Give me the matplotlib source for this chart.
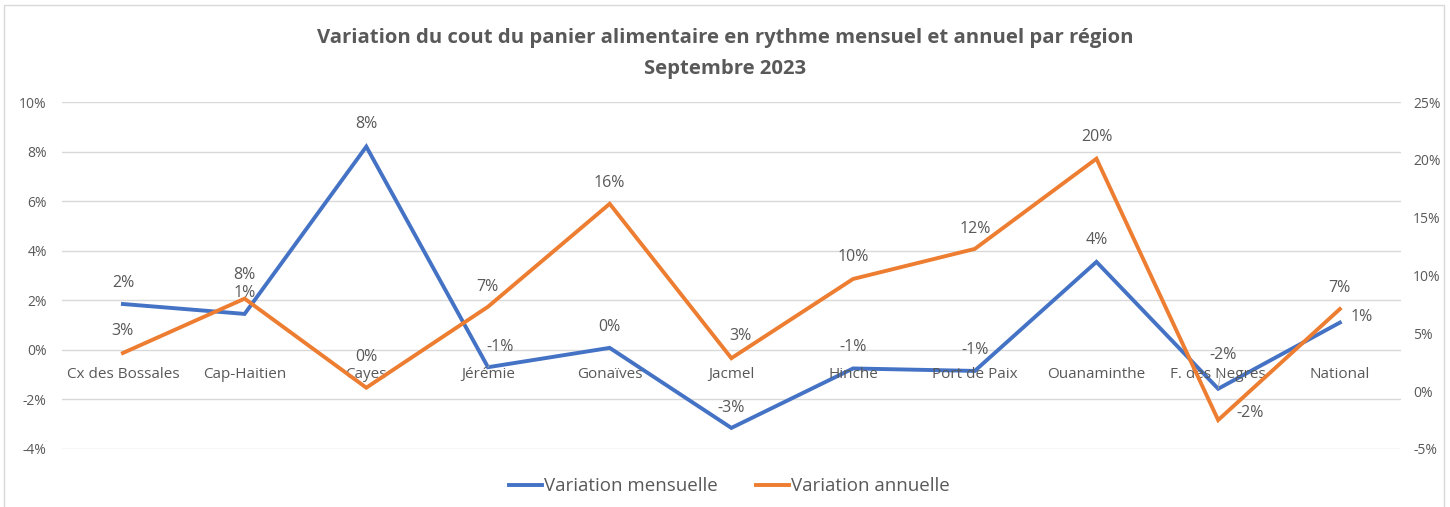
import matplotlib
matplotlib.use("Agg")
import matplotlib.pyplot as plt
from matplotlib.ticker import FuncFormatter
from matplotlib.patches import Rectangle

# data
regions = ["Cx des Bossales", "Cap-Haitien", "Cayes", "Jérémie", "Gonaïves", "Jacmel",
           "Hinche", "Port de Paix", "Ouanaminthe", "F. des Negres", "National"]
mensuelle = [1.85, 1.45, 8.2, -0.7, 0.08, -3.15, -0.75, -0.85, 3.55, -1.57, 1.1]
annuelle = [3.3, 8.0, 0.3, 7.3, 16.2, 2.85, 9.7, 12.3, 20.1, -2.5, 7.1]
lab_mens = ["2%", "1%", "8%", "-1%", "0%", "-3%", "-1%", "-1%", "4%", "-2%", "1%"]
lab_ann = ["3%", "8%", "0%", "7%", "16%", "3%", "10%", "12%", "20%", "-2%", "7%"]

# label offsets in pixels (dx, dy)
off_mens = [(0, 21), (0, 21), (0, 23), (12, 20), (0, 21), (0, 20), (0, 21), (0, 21),
            (0, 22), (5, 34), (22, 6)]
off_ann = [(0, 22), (0, 24), (0, 31), (-1, 20), (0, 21), (9, 22), (0, 22), (0, 20),
           (0, 22), (32, 7), (0, 21)]

blue = "#4472C4"
orange = "#ED7D31"
txt = "#595959"
plt.rcParams['font.family'] = ['Open Sans', 'DejaVu Sans']

fig = plt.figure(figsize=(14.5, 5.07), dpi=100)
fig.patches.append(Rectangle((0.003, -0.01), 0.993, 1.0, transform=fig.transFigure,
                             fill=False, edgecolor="#d9d9d9", linewidth=1))
ax = fig.add_axes([0.0428, 0.1144, 0.9232, 0.6844])
ax2 = ax.twinx()

x = list(range(len(regions)))
ax.plot(x, mensuelle, color=blue, linewidth=2.8, solid_joinstyle="miter", label="Variation mensuelle", zorder=3)
ax2.plot(x, annuelle, color=orange, linewidth=2.8, solid_joinstyle="miter", label="Variation annuelle", zorder=3)

ax.set_xlim(-0.5, len(regions) - 0.5)
ax.set_ylim(-4, 10)
ax.set_yticks(range(-4, 11, 2))
ax2.set_ylim(-5, 25)
ax2.set_yticks(range(-5, 26, 5))
pct = FuncFormatter(lambda v, p: "%d%%" % v)
ax.yaxis.set_major_formatter(pct)
ax2.yaxis.set_major_formatter(pct)
ax.grid(axis="y", color="#d9d9d9", linewidth=1)
ax.set_axisbelow(True)
ax.set_xticks([])
for a in (ax, ax2):
    for s in a.spines.values():
        s.set_visible(False)
    a.tick_params(length=0, colors=txt, labelsize=10)
ax.tick_params(axis="y", pad=11)
ax2.tick_params(axis="y", pad=9)

# category labels sit at the zero line
for i, r in enumerate(regions):
    ax.annotate(r, (i, 0), xytext=(0, -25), textcoords="offset pixels",
                ha="center", va="center", fontsize=11, color=txt)

leader = {3, 9, 10}
for i in x:
    dx, dy = off_mens[i]
    ax.annotate(lab_mens[i], (i, mensuelle[i]), xytext=(dx, dy), textcoords="offset pixels",
                ha="center", va="center", fontsize=11.5, color=txt, zorder=5,
                arrowprops=dict(arrowstyle="-", color="#a6a6a6", lw=0.6, shrinkA=6, shrinkB=0) if i in leader else None)
    dx, dy = off_ann[i]
    ax2.annotate(lab_ann[i], (i, annuelle[i]), xytext=(dx, dy), textcoords="offset pixels",
                 ha="center", va="center", fontsize=11.5, color=txt, zorder=5)

fig.text(0.5, 0.925, "Variation du cout du panier alimentaire en rythme mensuel et annuel par région",
         ha="center", va="center", fontsize=14.6, fontweight="bold", color=txt)
fig.text(0.5, 0.864, "Septembre 2023", ha="center", va="center", fontsize=14.6,
         fontweight="bold", color=txt)

h1, l1 = ax.get_legend_handles_labels()
h2, l2 = ax2.get_legend_handles_labels()
fig.legend(h1 + h2, l1 + l2, loc="center", bbox_to_anchor=(0.503, 0.041), ncol=2,
           frameon=False, fontsize=13.5, labelcolor=txt, handlelength=1.8,
           handletextpad=0.1, columnspacing=2.0)

fig.savefig("out.png", dpi=100)
